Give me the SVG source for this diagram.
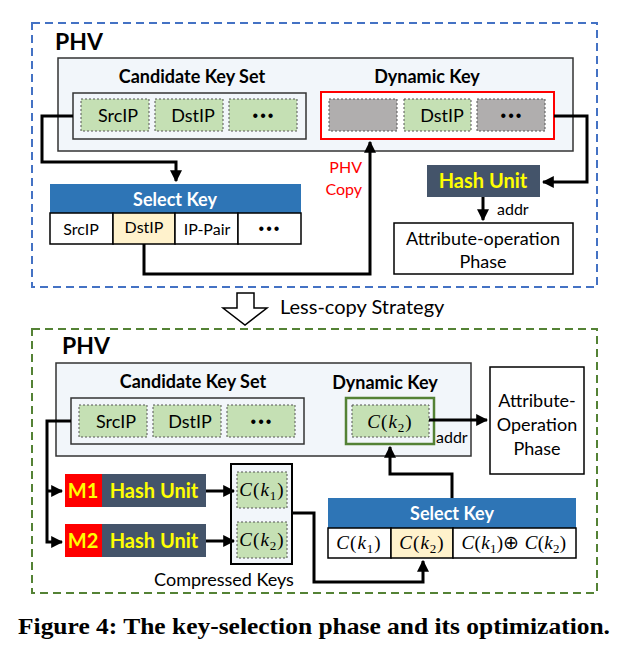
<svg xmlns="http://www.w3.org/2000/svg" width="640" height="649" viewBox="0 0 640 649">
<defs>
<marker id="ah" viewBox="0 0 10 10" refX="9" refY="5" markerWidth="4" markerHeight="4" markerUnits="strokeWidth" orient="auto"><path d="M0,0 L10,5 L0,10 z" fill="#000"/></marker>
<style>
text{font-family:Lato,"Liberation Sans",sans-serif;fill:#000}
.b{font-weight:bold}
.ph{font-size:23px;font-weight:bold}
.t{font-size:18px;font-weight:bold}
.c{font-size:18px}
.s{font-size:16px}
.d{font-family:"Liberation Sans",sans-serif;font-size:16px;letter-spacing:2px}
.m{font-family:"Liberation Serif",serif;font-style:italic;font-size:19px;letter-spacing:1px}
.m tspan.n{font-style:normal}
.m tspan.sb{font-style:normal;font-size:13px}
.cap{font-family:"Liberation Serif",serif;font-weight:bold;font-size:22.5px}
.panel{fill:#F2F6FA;stroke:#333;stroke-width:1.5}
.cell{fill:#C5E0B4;stroke:#555;stroke-width:1;stroke-dasharray:2,2}
.gray{fill:#B0AEAE;stroke:#555;stroke-width:1;stroke-dasharray:2,2}
.conn{fill:none;stroke:#000;stroke-width:3}
.box{fill:#fff;stroke:#000;stroke-width:1.5}
.hdr{fill:#2E75B6}
.hu{fill:#44546A}
.hut{font-size:20px;font-weight:bold;fill:#FFFF00}
.red{fill:#FF0000}
.wh{fill:#fff}
</style>
</defs>

<!-- Top section -->
<g id="top-frame">
<rect x="32" y="23" width="565" height="264" fill="none" stroke="#4472C4" stroke-width="2" stroke-dasharray="8,5"/>
<text x="55" y="50" class="ph">PHV</text>
</g>
<g id="top-phv">
<rect x="58" y="58" width="515" height="93" class="panel"/>
<text x="192" y="83" class="t" text-anchor="middle">Candidate Key Set</text>
<text x="427" y="83" class="t" text-anchor="middle">Dynamic Key</text>
</g>
<g id="top-cks">
<rect x="73" y="93" width="233" height="46" class="panel"/>
<rect x="81" y="99" width="68" height="32" class="cell"/>
<text x="118" y="122" class="c" text-anchor="middle">SrcIP</text>
<rect x="155" y="99" width="68" height="32" class="cell"/>
<text x="193" y="122" class="c" text-anchor="middle">DstIP</text>
<rect x="229" y="99" width="68" height="32" class="cell"/>
<text x="264" y="121" class="d" text-anchor="middle">•••</text>
</g>
<g id="top-dyn">
<rect x="321" y="92" width="233" height="47" fill="#fff" stroke="#FF0000" stroke-width="2"/>
<rect x="329" y="99" width="68" height="32" class="gray"/>
<rect x="404" y="99" width="67" height="32" class="cell"/>
<text x="442" y="122" class="c" text-anchor="middle">DstIP</text>
<rect x="477" y="99" width="68" height="32" class="gray"/>
<text x="512" y="121" class="d" text-anchor="middle">•••</text>
</g>
<g id="top-select">
<rect x="50" y="184" width="251" height="29" class="hdr"/>
<text x="175" y="206" class="t wh" text-anchor="middle">Select Key</text>
<rect x="50" y="213" width="63" height="31" class="box"/>
<text x="81" y="235" class="s" text-anchor="middle">SrcIP</text>
<rect x="113" y="213" width="62" height="31" fill="#FFF2CC" stroke="#000" stroke-width="1.5"/>
<text x="144" y="233" class="s" text-anchor="middle">DstIP</text>
<rect x="175" y="213" width="63" height="31" class="box"/>
<text x="207" y="235" class="s" text-anchor="middle">IP-Pair</text>
<rect x="238" y="213" width="63" height="31" class="box"/>
<text x="270" y="234" class="d" text-anchor="middle">•••</text>
</g>
<g id="top-hash">
<rect x="427" y="165" width="113" height="32" class="hu"/>
<text x="483" y="188" class="hut" text-anchor="middle">Hash Unit</text>
</g>
<g id="top-attr">
<rect x="394" y="223" width="179" height="51" class="box"/>
<text x="483" y="245" class="c" text-anchor="middle">Attribute-operation</text>
<text x="483" y="268" class="c" text-anchor="middle">Phase</text>
</g>
<g id="top-labels">
<text x="362" y="173" class="s red" text-anchor="end">PHV</text>
<text x="362" y="195" class="s red" text-anchor="end">Copy</text>
<text x="497" y="215" class="s">addr</text>
</g>

<!-- Middle arrow -->
<g id="strategy">
<path d="M237,293 L254,293 L254,308 L267,308 L245,325 L223,308 L237,308 Z" fill="#fff" stroke="#000" stroke-width="1.5"/>
<text x="280" y="314" font-size="20">Less-copy Strategy</text>
</g>

<!-- Bottom section -->
<g id="bot-frame">
<rect x="32" y="329" width="565" height="264" fill="none" stroke="#548235" stroke-width="2" stroke-dasharray="8,5"/>
<text x="62" y="354" class="ph">PHV</text>
</g>
<g id="bot-phv">
<rect x="56" y="363" width="415" height="93" class="panel"/>
<text x="193" y="388" class="t" text-anchor="middle">Candidate Key Set</text>
<text x="385" y="389" class="t" text-anchor="middle">Dynamic Key</text>
</g>
<g id="bot-cks">
<rect x="71" y="398" width="233" height="46" class="panel"/>
<rect x="79" y="405" width="68" height="32" class="cell"/>
<text x="116" y="428" class="c" text-anchor="middle">SrcIP</text>
<rect x="153" y="405" width="68" height="32" class="cell"/>
<text x="190" y="428" class="c" text-anchor="middle">DstIP</text>
<rect x="227" y="405" width="68" height="32" class="cell"/>
<text x="262" y="427" class="d" text-anchor="middle">•••</text>
</g>
<g id="bot-dyn">
<rect x="346" y="398" width="88" height="46" fill="#F2F6FA" stroke="#548235" stroke-width="2.5"/>
<rect x="352" y="405" width="77" height="32" class="cell"/>
<text x="390" y="428" class="m" text-anchor="middle">C<tspan class="n">(</tspan>k<tspan class="sb" dy="4">2</tspan><tspan class="n" dy="-4">)</tspan></text>
</g>
<g id="bot-attr">
<rect x="490" y="367" width="94" height="107" class="box"/>
<text x="537" y="407" class="c" text-anchor="middle">Attribute-</text>
<text x="537" y="431" class="c" text-anchor="middle">Operation</text>
<text x="537" y="455" class="c" text-anchor="middle">Phase</text>
</g>
<g id="bot-hash1">
<rect x="65" y="474" width="37" height="33" fill="#FF0000"/>
<text x="83" y="498" class="hut" text-anchor="middle">M1</text>
<rect x="102" y="474" width="104" height="33" class="hu"/>
<text x="154" y="498" class="hut" text-anchor="middle">Hash Unit</text>
</g>
<g id="bot-hash2">
<rect x="65" y="524" width="37" height="33" fill="#FF0000"/>
<text x="83" y="548" class="hut" text-anchor="middle">M2</text>
<rect x="102" y="524" width="104" height="33" class="hu"/>
<text x="154" y="548" class="hut" text-anchor="middle">Hash Unit</text>
</g>
<g id="bot-compressed">
<rect x="231" y="464" width="61" height="100" fill="#F2F6FA" stroke="#000" stroke-width="2"/>
<rect x="237" y="472" width="50" height="36" class="cell"/>
<text x="262" y="496" class="m" text-anchor="middle" font-size="18">C<tspan class="n">(</tspan>k<tspan class="sb" dy="4">1</tspan><tspan class="n" dy="-4">)</tspan></text>
<rect x="237" y="522" width="50" height="36" class="cell"/>
<text x="262" y="546" class="m" text-anchor="middle" font-size="18">C<tspan class="n">(</tspan>k<tspan class="sb" dy="4">2</tspan><tspan class="n" dy="-4">)</tspan></text>
<text x="224" y="586" class="c" text-anchor="middle">Compressed Keys</text>
</g>
<g id="bot-select">
<rect x="328" y="498" width="248" height="30" class="hdr"/>
<text x="452" y="520" class="t wh" text-anchor="middle">Select Key</text>
<rect x="328" y="528" width="63" height="30" class="box"/>
<text x="359" y="549" class="m" text-anchor="middle">C<tspan class="n">(</tspan>k<tspan class="sb" dy="4">1</tspan><tspan class="n" dy="-4">)</tspan></text>
<rect x="391" y="528" width="62" height="30" fill="#FFF2CC" stroke="#000" stroke-width="1.5"/>
<text x="422" y="549" class="m" text-anchor="middle">C<tspan class="n">(</tspan>k<tspan class="sb" dy="4">2</tspan><tspan class="n" dy="-4">)</tspan></text>
<rect x="453" y="528" width="123" height="30" class="box"/>
<text x="514" y="549" class="m" text-anchor="middle" style="letter-spacing:0.3px">C<tspan class="n">(</tspan>k<tspan class="sb" dy="4">1</tspan><tspan class="n" dy="-4">)⊕ </tspan>C<tspan class="n">(</tspan>k<tspan class="sb" dy="4">2</tspan><tspan class="n" dy="-4">)</tspan></text>
</g>
<g id="bot-labels">
<text x="436" y="443" class="s">addr</text>
</g>

<g id="connectors">
<path class="conn" d="M73,116 H42 V162 H176 V181" marker-end="url(#ah)"/>
<path class="conn" d="M144,244 V274 H370 V142" marker-end="url(#ah)"/>
<path class="conn" d="M554,116 H587 V182 H543" marker-end="url(#ah)"/>
<path class="conn" d="M483,197 V220" marker-end="url(#ah)"/>
<path class="conn" d="M71,421 H47 V542 H62" marker-end="url(#ah)"/>
<path class="conn" d="M47,491 H62" marker-end="url(#ah)"/>
<path class="conn" d="M206,491 H234" marker-end="url(#ah)"/>
<path class="conn" d="M206,541 H234" marker-end="url(#ah)"/>
<path class="conn" d="M292,513 H314 V582 H423 V561" marker-end="url(#ah)"/>
<path class="conn" d="M452,498 V474 H390 V447" marker-end="url(#ah)"/>
<path class="conn" d="M429,420 H487" marker-end="url(#ah)"/>
</g>

<text x="18" y="634" class="cap" textLength="592" lengthAdjust="spacingAndGlyphs">Figure 4: The key-selection phase and its optimization.</text>
</svg>
